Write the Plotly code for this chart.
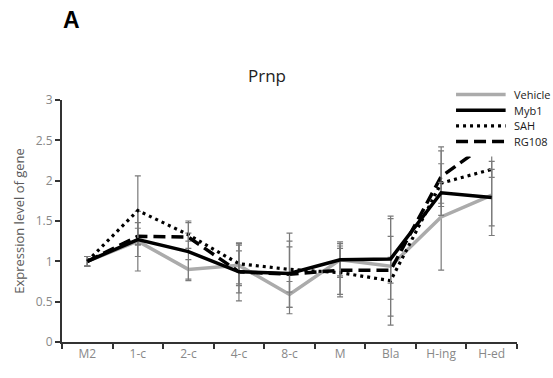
import plotly.graph_objects as go

# Developmental stages on the x axis
stages = ["M2", "1-c", "2-c", "4-c", "8-c", "M", "Bla", "H-ing", "H-ed"]

# Mean relative expression of Prnp per treatment
vehicle = [1.00, 1.25, 0.90, 0.95, 0.59, 1.02, 0.94, 1.55, 1.82]
myb1 = [1.00, 1.27, 1.12, 0.87, 0.85, 1.02, 1.03, 1.85, 1.79]
sah = [1.00, 1.63, 1.33, 0.97, 0.90, 0.86, 0.76, 1.97, 2.14]
rg108 = [1.00, 1.31, 1.30, 0.87, 0.84, 0.89, 0.89, 2.05, 2.50]

# Standard deviations
vehicle_sd = [0.06, 0.37, 0.12, 0.25, 0.16, 0.22, 0.62, 0.66, 0.50]
myb1_sd = [0.06, 0.21, 0.36, 0.36, 0.50, 0.20, 0.50, 0.13, 0.35]
sah_sd = [0.06, 0.43, 0.17, 0.25, 0.28, 0.30, 0.55, 0.40, 0.10]
rg108_sd = [0.06, 0.10, 0.05, 0.26, 0.41, 0.30, 0.16, 0.37, 0.10]

series_names = ["Vehicle", "Myb1", "SAH", "RG108"]
y_ticks = [0, 0.5, 1, 1.5, 2, 2.5, 3]

styles = {
    "Vehicle": dict(color="#ababab", width=3.5, dash="solid"),
    "Myb1": dict(color="#000000", width=3.5, dash="solid"),
    "SAH": dict(color="#000000", width=3.2, dash="3px,4px"),
    "RG108": dict(color="#000000", width=3.5, dash="12px,6px"),
}
data = {"Vehicle": (vehicle, vehicle_sd), "Myb1": (myb1, myb1_sd),
        "SAH": (sah, sah_sd), "RG108": (rg108, rg108_sd)}

fig = go.Figure()
for name in ["Vehicle", "RG108", "SAH", "Myb1"]:
    vals, sd = data[name]
    fig.add_trace(go.Scatter(
        x=stages, y=vals, name=name, mode="lines",
        line=styles[name],
        error_y=dict(type="data", array=sd, visible=True,
                     color="#7a7a7a", thickness=1.2, width=3),
        showlegend=False,
    ))

FONT = "Open Sans, Noto Sans, sans-serif"

# Hand-drawn legend box with line samples
shapes = [dict(type="rect", xref="paper", yref="paper",
               x0=0.84, x1=1.08, y0=0.767, y1=1.08,
               fillcolor="white", line=dict(width=0), layer="above")]
annotations = []
legend_top = 1.023
legend_step = 0.065
for i, name in enumerate(series_names):
    yy = legend_top - i * legend_step
    st = styles[name]
    shapes.append(dict(type="line", xref="paper", yref="paper",
                       x0=0.866, x1=0.975, y0=yy, y1=yy, layer="above",
                       line=dict(color=st["color"], width=st["width"],
                                 dash=st["dash"])))
    annotations.append(dict(xref="paper", yref="paper", x=0.99, y=yy,
                            text=name, showarrow=False, xanchor="left",
                            yanchor="middle",
                            font=dict(family=FONT, size=11, color="#1a1a1a")))

annotations.append(dict(xref="paper", yref="paper", x=0.45, y=1.103,
                        text="Prnp", showarrow=False,
                        xanchor="center", yanchor="middle",
                        font=dict(family=FONT, size=17, color="#222")))
annotations.append(dict(xref="paper", yref="paper", x=0.02, y=1.33,
                        text="<b>A</b>", showarrow=False,
                        xanchor="center", yanchor="middle",
                        font=dict(family="Liberation Sans, Arial", size=23,
                                  color="#000")))

fig.update_layout(
    width=553, height=378,
    margin=dict(l=62, r=36, t=100, b=36),
    paper_bgcolor="white", plot_bgcolor="white",
    font=dict(family=FONT, color="#888"),
    shapes=shapes, annotations=annotations,
)
fig.update_xaxes(
    type="category", range=[-0.5, 8.5], tickson="boundaries",
    showline=True, linecolor="#333", linewidth=2,
    ticks="outside", ticklen=5, tickwidth=1.5, tickcolor="#333",
    showgrid=False, zeroline=False,
    tickfont=dict(family=FONT, size=12, color="#888"),
)
fig.update_yaxes(
    range=[0, 3], tickvals=y_ticks,
    ticktext=[f"{v:g}" for v in y_ticks],
    showline=True, linecolor="#333", linewidth=2,
    ticks="outside", ticklen=5, tickwidth=1.5, tickcolor="#333",
    showgrid=False, zeroline=False,
    tickfont=dict(family=FONT, size=12, color="#888"),
    title=dict(text="Expression level of gene", standoff=8,
               font=dict(family=FONT, size=13, color="#5a5a5a")),
)

fig.write_html("out.html")
